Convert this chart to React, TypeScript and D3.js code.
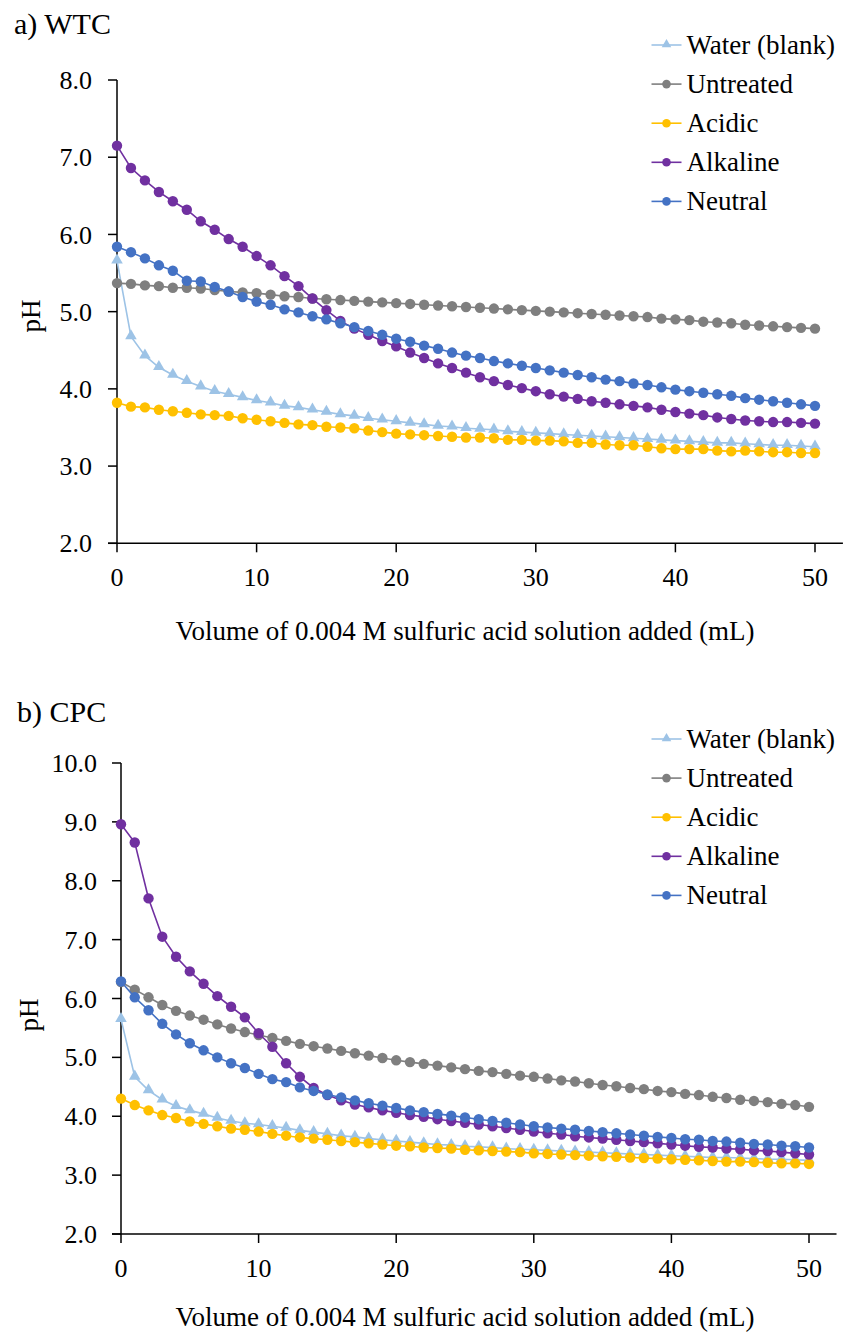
import React from "react";
import * as d3 from "d3";

const xValues: number[] = Array.from({ length: 51 }, (_, i) => i);
const seriesNames = ["Water (blank)", "Untreated", "Acidic", "Alkaline", "Neutral"];
const seriesColors = ["#9DC3E6", "#7F7F7F", "#FFC000", "#7030A0", "#4472C4"];
const xTicks = [0, 10, 20, 30, 40, 50];

// Panel a) WTC
const wtcWater = [5.66, 4.68, 4.43, 4.28, 4.18, 4.10, 4.03, 3.97, 3.93, 3.89, 3.85, 3.82, 3.78, 3.76, 3.73, 3.70, 3.67, 3.65, 3.62, 3.60, 3.58, 3.56, 3.54, 3.52, 3.51, 3.49, 3.48, 3.47, 3.45, 3.44, 3.43, 3.42, 3.41, 3.40, 3.39, 3.38, 3.37, 3.36, 3.35, 3.34, 3.33, 3.32, 3.31, 3.30, 3.30, 3.29, 3.28, 3.27, 3.27, 3.26, 3.25];
const wtcUntreated = [5.37, 5.36, 5.34, 5.33, 5.31, 5.31, 5.30, 5.28, 5.26, 5.25, 5.24, 5.22, 5.20, 5.19, 5.17, 5.16, 5.15, 5.14, 5.13, 5.12, 5.11, 5.10, 5.09, 5.08, 5.07, 5.06, 5.05, 5.04, 5.03, 5.02, 5.01, 5.00, 4.99, 4.98, 4.97, 4.96, 4.95, 4.94, 4.93, 4.91, 4.90, 4.89, 4.87, 4.86, 4.85, 4.83, 4.82, 4.81, 4.80, 4.79, 4.78];
const wtcAcidic = [3.82, 3.77, 3.76, 3.73, 3.71, 3.69, 3.67, 3.66, 3.65, 3.62, 3.60, 3.58, 3.56, 3.54, 3.53, 3.51, 3.50, 3.49, 3.46, 3.44, 3.42, 3.41, 3.40, 3.39, 3.38, 3.37, 3.37, 3.36, 3.34, 3.34, 3.33, 3.33, 3.32, 3.30, 3.30, 3.28, 3.27, 3.27, 3.25, 3.23, 3.22, 3.22, 3.22, 3.20, 3.19, 3.20, 3.19, 3.18, 3.18, 3.17, 3.17];
const wtcAlkaline = [7.15, 6.86, 6.70, 6.55, 6.43, 6.32, 6.17, 6.06, 5.94, 5.84, 5.72, 5.60, 5.46, 5.33, 5.17, 5.02, 4.88, 4.78, 4.70, 4.62, 4.55, 4.47, 4.40, 4.33, 4.27, 4.21, 4.15, 4.10, 4.05, 4.01, 3.97, 3.93, 3.90, 3.87, 3.84, 3.82, 3.80, 3.78, 3.76, 3.73, 3.70, 3.68, 3.66, 3.63, 3.61, 3.59, 3.58, 3.57, 3.57, 3.56, 3.55];
const wtcNeutral = [5.84, 5.77, 5.69, 5.60, 5.53, 5.40, 5.39, 5.32, 5.26, 5.19, 5.13, 5.09, 5.03, 4.99, 4.94, 4.90, 4.85, 4.80, 4.75, 4.70, 4.65, 4.61, 4.56, 4.52, 4.47, 4.43, 4.40, 4.36, 4.33, 4.30, 4.27, 4.24, 4.21, 4.18, 4.15, 4.12, 4.10, 4.07, 4.05, 4.02, 3.99, 3.97, 3.95, 3.93, 3.91, 3.88, 3.86, 3.84, 3.82, 3.80, 3.78];

// Panel b) CPC
const cpcWater = [5.65, 4.67, 4.44, 4.28, 4.17, 4.10, 4.04, 3.97, 3.92, 3.88, 3.86, 3.83, 3.80, 3.76, 3.73, 3.70, 3.67, 3.65, 3.62, 3.60, 3.58, 3.56, 3.54, 3.52, 3.51, 3.49, 3.48, 3.47, 3.45, 3.44, 3.43, 3.42, 3.41, 3.40, 3.39, 3.38, 3.37, 3.36, 3.35, 3.34, 3.33, 3.32, 3.31, 3.30, 3.30, 3.29, 3.28, 3.27, 3.27, 3.26, 3.25];
const cpcUntreated = [6.28, 6.15, 6.02, 5.89, 5.79, 5.71, 5.64, 5.56, 5.49, 5.43, 5.38, 5.33, 5.28, 5.23, 5.19, 5.15, 5.11, 5.07, 5.03, 4.99, 4.95, 4.92, 4.89, 4.86, 4.83, 4.80, 4.77, 4.75, 4.72, 4.69, 4.67, 4.64, 4.61, 4.59, 4.56, 4.53, 4.51, 4.48, 4.46, 4.43, 4.41, 4.38, 4.36, 4.33, 4.31, 4.28, 4.26, 4.24, 4.21, 4.19, 4.16];
const cpcAcidic = [4.30, 4.19, 4.10, 4.02, 3.97, 3.91, 3.87, 3.83, 3.79, 3.77, 3.74, 3.70, 3.67, 3.64, 3.62, 3.60, 3.58, 3.56, 3.54, 3.52, 3.50, 3.49, 3.47, 3.46, 3.45, 3.43, 3.42, 3.41, 3.40, 3.39, 3.37, 3.36, 3.35, 3.34, 3.33, 3.32, 3.31, 3.30, 3.29, 3.28, 3.27, 3.26, 3.25, 3.24, 3.23, 3.23, 3.22, 3.21, 3.20, 3.20, 3.19];
const cpcAlkaline = [8.96, 8.65, 7.70, 7.05, 6.71, 6.46, 6.25, 6.04, 5.86, 5.68, 5.41, 5.18, 4.90, 4.67, 4.48, 4.36, 4.27, 4.20, 4.15, 4.10, 4.06, 4.02, 3.99, 3.95, 3.92, 3.89, 3.86, 3.83, 3.80, 3.77, 3.74, 3.71, 3.69, 3.66, 3.64, 3.62, 3.60, 3.58, 3.56, 3.54, 3.52, 3.50, 3.48, 3.47, 3.45, 3.44, 3.42, 3.41, 3.39, 3.37, 3.35];
const cpcNeutral = [6.29, 6.02, 5.80, 5.57, 5.39, 5.24, 5.12, 5.00, 4.90, 4.82, 4.72, 4.63, 4.58, 4.49, 4.43, 4.37, 4.32, 4.27, 4.22, 4.18, 4.14, 4.10, 4.07, 4.04, 4.01, 3.98, 3.95, 3.92, 3.89, 3.86, 3.83, 3.81, 3.79, 3.77, 3.75, 3.73, 3.71, 3.69, 3.67, 3.65, 3.63, 3.61, 3.60, 3.58, 3.57, 3.55, 3.53, 3.52, 3.50, 3.49, 3.47];

const wtcTicks = [2, 3, 4, 5, 6, 7, 8];
const cpcTicks = [2, 3, 4, 5, 6, 7, 8, 9, 10];

const FONT = "'Liberation Serif', 'Times New Roman', serif";

type PanelProps = {
  title: string;
  titleX: number;
  titleY: number;
  series: number[][];
  yTicks: number[];
  xRange: [number, number];
  yRange: [number, number];
  yDomain: [number, number];
  labelRight: number;
  pHX: number;
  pHY: number;
  xTitleY: number;
  legendY: number;
};

function Panel(p: PanelProps) {
  const x = d3.scaleLinear().domain([0, 52]).range(p.xRange);
  const y = d3.scaleLinear().domain(p.yDomain).range(p.yRange);
  const line = d3
    .line<number>()
    .x((_, i) => x(xValues[i]))
    .y((d) => y(d));
  const tri = d3.symbol(d3.symbolTriangle, 58)() as string;
  const x0 = x(0);
  const yBottom = y(p.yDomain[0]);
  const yTop = y(p.yDomain[1]);
  const legendStep = 39.1;
  return (
    <g>
      <text x={p.titleX} y={p.titleY} fontSize={30} fontFamily={FONT} fill="#000">
        {p.title}
      </text>
      {/* axes */}
      <line x1={x0} x2={x0} y1={yTop} y2={yBottom} stroke="#000" strokeWidth={1.5} />
      <line x1={x0 - 9} x2={p.xRange[1]} y1={yBottom} y2={yBottom} stroke="#000" strokeWidth={1.5} />
      {p.yTicks.map((t) => (
        <g key={"y" + t}>
          <line x1={x0 - 9} x2={x0} y1={y(t)} y2={y(t)} stroke="#000" strokeWidth={1.5} />
          <text
            x={p.labelRight}
            y={y(t)}
            dy="0.35em"
            textAnchor="end"
            fontSize={26}
            fontFamily={FONT}
            fill="#000"
          >
            {t.toFixed(1)}
          </text>
        </g>
      ))}
      {xTicks.map((t) => (
        <g key={"x" + t}>
          <line x1={x(t)} x2={x(t)} y1={yBottom} y2={yBottom + 9} stroke="#000" strokeWidth={1.5} />
          <text x={x(t)} y={yBottom + 43} textAnchor="middle" fontSize={26} fontFamily={FONT} fill="#000">
            {t}
          </text>
        </g>
      ))}
      <text
        transform={`translate(${p.pHX},${p.pHY}) rotate(-90)`}
        textAnchor="middle"
        fontSize={27}
        fontFamily={FONT}
        fill="#000"
      >
        pH
      </text>
      <text x={465} y={p.xTitleY} textAnchor="middle" fontSize={27} fontFamily={FONT} fill="#000">
        Volume of 0.004 M sulfuric acid solution added (mL)
      </text>
      {/* series */}
      {p.series.map((s, si) => (
        <g key={"s" + si}>
          <path d={line(s) as string} fill="none" stroke={seriesColors[si]} strokeWidth={1.6} />
          {s.map((v, i) =>
            si === 0 ? (
              <path
                key={i}
                d={tri}
                transform={`translate(${x(xValues[i])},${y(v) - 0.5})`}
                fill={seriesColors[si]}
              />
            ) : (
              <circle key={i} cx={x(xValues[i])} cy={y(v)} r={5.2} fill={seriesColors[si]} />
            )
          )}
        </g>
      ))}
      {/* legend */}
      {seriesNames.map((n, i) => {
        const ly = p.legendY + i * legendStep;
        return (
          <g key={"l" + i}>
            <line x1={651.5} x2={681.5} y1={ly} y2={ly} stroke={seriesColors[i]} strokeWidth={1.6} />
            {i === 0 ? (
              <path d={d3.symbol(d3.symbolTriangle, 40)() as string} transform={`translate(666.5,${ly - 0.5})`} fill={seriesColors[i]} />
            ) : (
              <circle cx={666.5} cy={ly} r={4.3} fill={seriesColors[i]} />
            )}
            <text x={686.5} y={ly} dy="0.33em" fontSize={27} fontFamily={FONT} fill="#000">
              {n}
            </text>
          </g>
        );
      })}
    </g>
  );
}

export default function App() {
  return (
    <svg
      width={845}
      height={1335}
      style={{ position: "absolute", left: 0, top: 0, background: "#fff" }}
    >
      <rect width={845} height={1335} fill="#fff" />
      <Panel
        title="a) WTC"
        titleX={14}
        titleY={34}
        series={[wtcWater, wtcUntreated, wtcAcidic, wtcAlkaline, wtcNeutral]}
        yTicks={wtcTicks}
        xRange={[117, 117 + 52 * 13.96]}
        yRange={[543.3, 80]}
        yDomain={[2, 8]}
        labelRight={92}
        pHX={40}
        pHY={316}
        xTitleY={640}
        legendY={45}
      />
      <Panel
        title="b) CPC"
        titleX={17}
        titleY={722}
        series={[cpcWater, cpcUntreated, cpcAcidic, cpcAlkaline, cpcNeutral]}
        yTicks={cpcTicks}
        xRange={[121, 121 + 52 * 13.76]}
        yRange={[1234, 763]}
        yDomain={[2, 10]}
        labelRight={97}
        pHX={38}
        pHY={1015}
        xTitleY={1326}
        legendY={739}
      />
    </svg>
  );
}
